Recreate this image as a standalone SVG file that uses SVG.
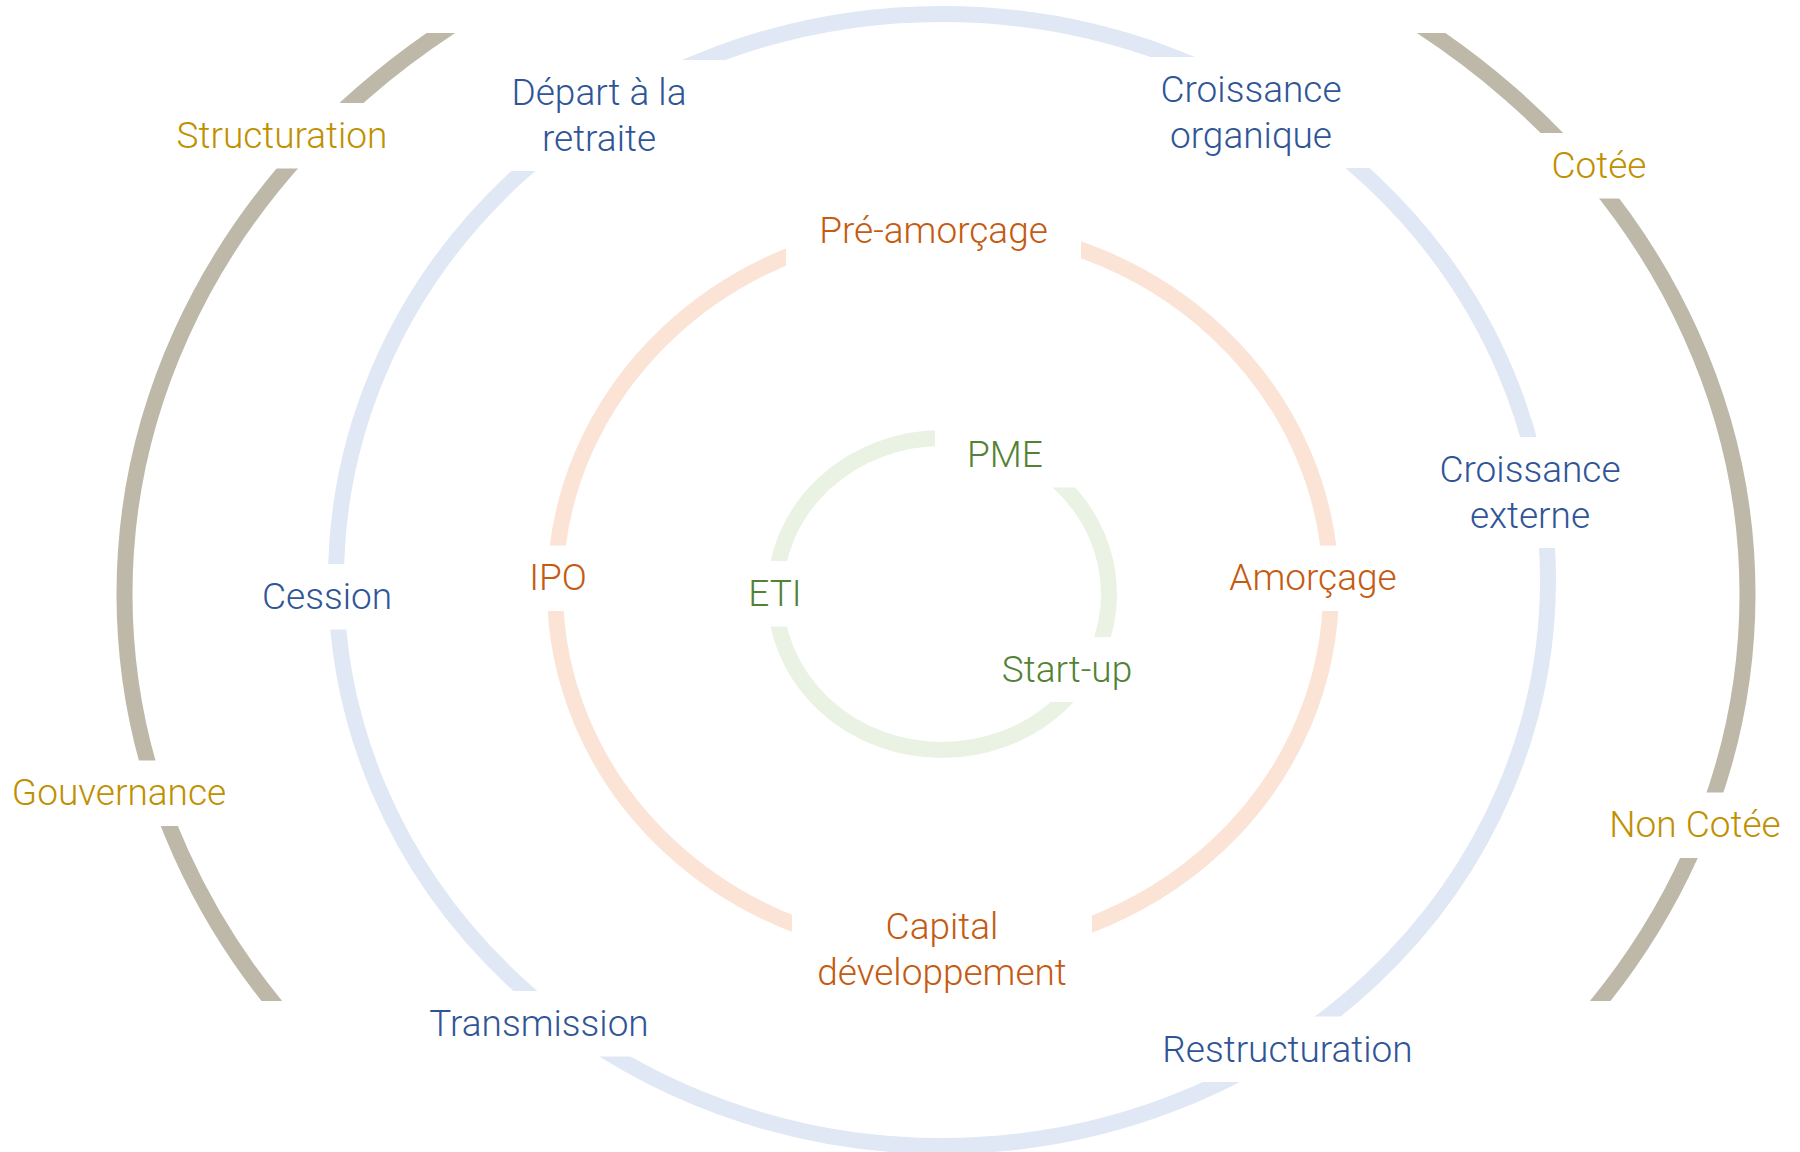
<svg xmlns="http://www.w3.org/2000/svg" width="1800" height="1152" viewBox="0 0 1800 1152">
<style>
.ring{fill:none;stroke-width:16}
.gray{stroke:#bdb8a8}
.blue{stroke:#e0e8f5}
.orange{stroke:#fbe4d6}
.green{stroke:#eaf2e3}
.bg{fill:#ffffff}
text{font-family:Roboto,"Liberation Sans",sans-serif;font-weight:300;font-size:37px;text-anchor:middle}
.tg{fill:#bf9000}
.tb{fill:#2f5597}
.to{fill:#c55a11}
.tgr{fill:#548235}
</style>
<defs>
<clipPath id="grayclip"><rect x="0" y="33" width="1800" height="968"/></clipPath>
</defs>
<rect width="1800" height="1152" fill="#ffffff"/>
<g id="rings">
<ellipse class="ring gray" cx="936" cy="594" rx="811.5" ry="708" clip-path="url(#grayclip)"/>
<ellipse class="ring blue" cx="942" cy="580" rx="606" ry="566"/>
<ellipse class="ring orange" cx="943" cy="589" rx="388" ry="363"/>
<ellipse class="ring green" cx="942" cy="594" rx="167" ry="156"/>
</g>
<g id="structuration"><rect class="bg" x="157" y="103" width="250" height="65.5"/><text class="tg" x="282" y="148">Structuration</text></g>
<g id="depart"><rect class="bg" x="474" y="60" width="250" height="111"/><text class="tb" x="599" y="105">Départ à la</text><text class="tb" x="599" y="150.5">retraite</text></g>
<g id="croissance-organique"><rect class="bg" x="1121" y="57" width="260" height="111"/><text class="tb" x="1251" y="102">Croissance</text><text class="tb" x="1251" y="147.5">organique</text></g>
<g id="cotee"><rect class="bg" x="1524" y="133" width="150" height="65.5"/><text class="tg" x="1599" y="178">Cotée</text></g>
<g id="pre-amorcage"><rect class="bg" x="786" y="196" width="295" height="70"/><text class="to" x="933.5" y="243">Pré-amorçage</text></g>
<g id="cession"><rect class="bg" x="222" y="564" width="210" height="65.5"/><text class="tb" x="327" y="609">Cession</text></g>
<g id="ipo"><rect class="bg" x="488" y="545.5" width="140" height="65.5"/><text class="to" x="558" y="590">IPO</text></g>
<g id="eti"><rect class="bg" x="710" y="561" width="130" height="65.5"/><text class="tgr" x="775" y="606">ETI</text></g>
<g id="pme"><rect class="bg" x="935" y="422" width="140" height="65.5"/><text class="tgr" x="1005" y="467">PME</text></g>
<g id="startup"><rect class="bg" x="963" y="637" width="208" height="65"/><text class="tgr" x="1067" y="682">Start-up</text></g>
<g id="amorcage"><rect class="bg" x="1188" y="545.5" width="250" height="65.5"/><text class="to" x="1313" y="590">Amorçage</text></g>
<g id="croissance-externe"><rect class="bg" x="1405" y="437" width="250" height="111"/><text class="tb" x="1530" y="482">Croissance</text><text class="tb" x="1530" y="527.5">externe</text></g>
<g id="gouvernance"><rect class="bg" x="-11" y="760.5" width="260" height="65.5"/><text class="tg" x="119" y="805">Gouvernance</text></g>
<g id="non-cotee"><rect class="bg" x="1570" y="792.5" width="250" height="65.5"/><text class="tg" x="1695" y="837">Non Cotée</text></g>
<g id="capital"><rect class="bg" x="792" y="893.5" width="300" height="111.5"/><text class="to" x="942" y="938.5">Capital</text><text class="to" x="942" y="984.5">développement</text></g>
<g id="transmission"><rect class="bg" x="404" y="991" width="270" height="65.5"/><text class="tb" x="539" y="1036">Transmission</text></g>
<g id="restructuration"><rect class="bg" x="1142" y="1016.5" width="290" height="65.5"/><text class="tb" x="1287.5" y="1062">Restructuration</text></g>
</svg>
